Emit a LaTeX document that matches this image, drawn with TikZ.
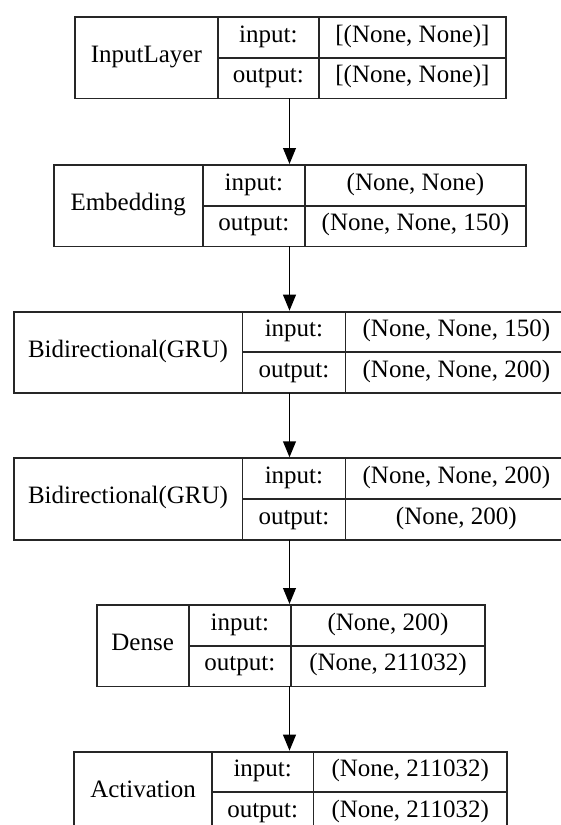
\documentclass[tikz,border=0pt]{standalone}
\usepackage{fontspec}
\setmainfont{Liberation Serif}
\usetikzlibrary{arrows.meta}

% Record-style layer boxes: name | input:/output: | shapes
\tikzset{
  cell/.style={draw=black!85, line width=0.95pt, inner sep=0pt, anchor=north west,
    font=\fontsize{12.5}{14}\selectfont, text height=0.69em, text depth=0.21em},
  frame/.style={inner sep=0pt, anchor=north, draw=none},
  edge/.style={draw=black, line width=0.75pt, -{Triangle[length=8pt, width=6.4pt]}}
}

% #1 name, #2 label, #3 left, #4 first divider, #5 second divider,
% #6 right, #7 top, #8 input shape, #9 output shape  (units: 0.5pt, y down)
\newcommand\layerrec[9]{%
  \node[frame, minimum width={(#6-#3)*0.5pt}, minimum height=40.75pt] (#1) at (289.5,#7) {};
  \node[cell, minimum width={(#4-#3)*0.5pt}, minimum height=40.75pt] (#1-name) at (#3,#7) {#2};
  \node[cell, minimum width={(#5-#4)*0.5pt}, minimum height=20.375pt] (#1-ik) at (#4,#7) {input:};
  \node[cell, minimum width={(#6-#5)*0.5pt}, minimum height=20.375pt] (#1-iv) at (#5,#7) {#8};
  \node[cell, minimum width={(#5-#4)*0.5pt}, minimum height=20.375pt] (#1-ok) at (#4,#7+40.75) {output:};
  \node[cell, minimum width={(#6-#5)*0.5pt}, minimum height=20.375pt] (#1-ov) at (#5,#7+40.75) {#9};
}

\begin{document}
\begin{tikzpicture}[x=0.5pt, y=-0.5pt]
  \clip (0,0) rectangle (561,825);
  \fill[white] (0,0) rectangle (561,825);

  \layerrec{inp}{InputLayer}{74}{216.7}{318}{505}{16}{[(None, None)]}{[(None, None)]}
  \layerrec{emb}{Embedding}{52.7}{201.7}{304}{525}{164}{(None, None)}{(None, None, 150)}
  \layerrec{gruA}{Bidirectional(GRU)}{12.7}{241.5}{344.5}{566.3}{310.7}{(None, None, 150)}{(None, None, 200)}
  \layerrec{gruB}{Bidirectional(GRU)}{12.7}{241.5}{344.5}{566.3}{457.3}{(None, None, 200)}{(None, 200)}
  \layerrec{dense}{Dense}{95.7}{187.7}{290}{484}{604}{(None, 200)}{(None, 211032)}
  \layerrec{act}{Activation}{73.3}{211}{312.5}{506}{750.7}{(None, 211032)}{(None, 211032)}

  \draw[edge] (inp.south) -- (emb.north);
  \draw[edge] (emb.south) -- (gruA.north);
  \draw[edge] (gruA.south) -- (gruB.north);
  \draw[edge] (gruB.south) -- (dense.north);
  \draw[edge] (dense.south) -- (act.north);
\end{tikzpicture}
\end{document}
